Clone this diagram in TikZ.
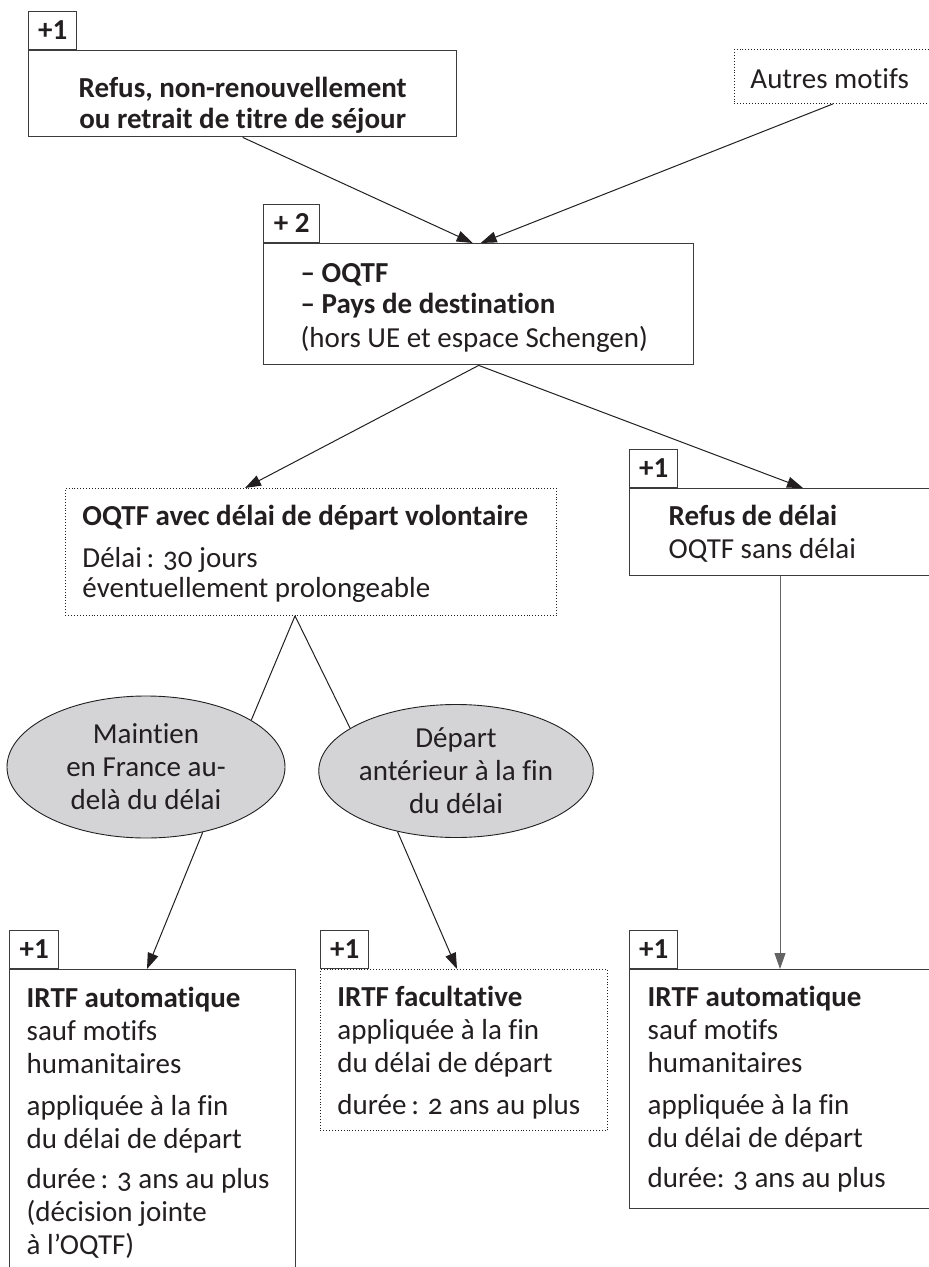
\documentclass[tikz,border=0pt]{standalone}
\usepackage{fontspec}
\setmainfont{Carlito}[Numbers=OldStyle, Ligatures=NoCommon]
\usepackage{tikz}
\usetikzlibrary{arrows.meta,positioning,shapes.geometric,calc}
\usepackage{xcolor}
\definecolor{inkblack}{RGB}{35,31,32}
\definecolor{framegray}{RGB}{60,60,60}
\definecolor{shadegray}{RGB}{212,212,214}
\definecolor{rulegray}{RGB}{100,100,100}

\begin{document}
\begin{tikzpicture}[x=0.5pt, y=-0.5pt, >={Triangle[length=8pt,width=5.5pt]}]
\tikzset{
  bodytext/.style={text=inkblack, font={\fontsize{14.5pt}{16.5pt}\selectfont}},
  frame/.style={bodytext, draw=framegray, line width=0.7pt, anchor=north west, inner sep=0pt, align=flush left},
  dotframe/.style={frame, draw=inkblack, line width=0.45pt, densely dotted},
  lskip/.style={execute at begin node={\leftskip=#1\relax}},
  tag/.style={bodytext, draw=framegray, line width=0.7pt, anchor=south west, inner sep=0pt, minimum width=24pt, minimum height=19pt, font={\fontsize{14.5pt}{16.5pt}\selectfont\bfseries\addfontfeatures{Numbers=Lining}}},
  bubble/.style={bodytext, ellipse, draw=inkblack, line width=0.45pt, fill=shadegray, align=center, inner sep=0pt},
  link/.style={draw=inkblack, line width=0.5pt}
}
\useasboundingbox (0,0) rectangle (929,1267);
\clip (0,0) rectangle (929,1267);

% top row
\node[frame, align=flush center, text width=214pt, text height=23.5pt, text depth=19.5pt] (refus) at (28,50)
  {\bfseries Refus, non-renouvellement\\[-1pt] ou retrait de titre de séjour};
\node[tag] (refusplus) at (refus.north west) {+1};
\node[dotframe, lskip=8pt, text width=133pt, text height=19.5pt, text depth=7.5pt] (autres) at (734,49) {Autres motifs};

% OQTF
\node[frame, lskip=18.5pt, text width=215pt, text height=19.5pt, text depth=41pt] (oqtf) at (263,243)
  {\textbf{– OQTF}\\[-1pt] \textbf{– Pays de destination}\\[0.5pt] (hors UE et espace Schengen)};
\node[tag, minimum width=28pt] (oqtfplus) at (oqtf.north west) {+ 2};

% second row
\node[dotframe, lskip=8.5pt, text width=245.5pt, text height=18.5pt, text depth=45pt] (vol) at (65,488)
  {\textbf{OQTF avec délai de départ volontaire}\\[4.5pt] Délai\,: 30 jours\\[-1.5pt] éventuellement prolongeable};
\node[frame, lskip=19.5pt, text width=185.5pt, text height=18.5pt, text depth=25pt] (sansdelai) at (629,488)
  {\textbf{Refus de délai}\\ OQTF sans délai};
\node[tag] (sansplus) at (sansdelai.north west) {+1};

% ellipses
\node[bubble, minimum width=139pt, minimum height=71pt] (maintien) at (146,767) {Maintien\\en France au-\\delà du délai};
\node[bubble, minimum width=134pt, minimum height=66.5pt] (depart) at (456,771) {Départ\\antérieur à la fin\\du délai};

% IRTF row
\node[frame, lskip=8.5pt, text width=143pt, text height=19pt, text depth=146.5pt] (irtfauto) at (9,969)
  {\textbf{IRTF automatique}\\ sauf motifs\\ humanitaires\\[4.5pt] appliquée à la fin\\ du délai de départ\\[3.5pt] durée\,: 3 ans au plus\\ (décision jointe\\ à l’OQTF)};
\node[tag, minimum width=24.5pt] (irtfautoplus) at (irtfauto.north west) {+1};
\node[dotframe, lskip=8.5pt, text width=143.5pt, text height=18.5pt, text depth=62pt] (irtffac) at (320,969)
  {\textbf{IRTF facultative}\\ appliquée à la fin\\ du délai de départ\\[4.5pt] durée\,: 2 ans au plus};
\node[tag] (irtffacplus) at (irtffac.north west) {+1};
\node[frame, lskip=9pt, text width=185.5pt, text height=18.5pt, text depth=101pt] (irtfsans) at (629,969)
  {\textbf{IRTF automatique}\\ sauf motifs\\ humanitaires\\[4.5pt] appliquée à la fin\\ du délai de départ\\[3.5pt] durée: 3 ans au plus};
\node[tag] (irtfsansplus) at (irtfsans.north west) {+1};

% connectors
\coordinate (apex) at ($(vol.south west)+(230,0)$);
\draw[link, ->] (refus.south) -- ($(oqtf.north)+(-6,0)$);
\draw[link, ->] ($(autres.south west)+(99,0)$) -- ($(oqtf.north)+(2,0)$);
\draw[link, ->] (oqtf.south) -- ($(vol.north west)+(180,0)$);
\draw[link, ->] (oqtf.south) -- ($(sansdelai.north west)+(174,0)$);
\draw[link] (apex) -- (maintien.24);
\draw[link] (apex) -- (depart.158);
\draw[link, ->] (maintien.-49) -- ($(irtfauto.north west)+(138,0)$);
\draw[link, ->] (depart.-134) -- ($(irtffac.north west)+(137,0)$);
\draw[link, ->, draw=rulegray] ($(sansdelai.south west)+(151,0)$) -- ($(irtfsans.north west)+(151,0)$);
\end{tikzpicture}
\end{document}
